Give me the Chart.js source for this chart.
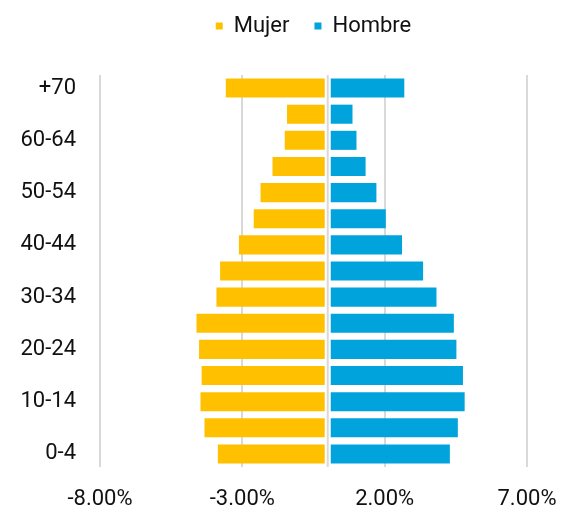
<!DOCTYPE html>
<html><head><meta charset="utf-8">
<script src="https://cdn.jsdelivr.net/npm/chart.js@4/dist/chart.umd.min.js"></script>
<style>html,body{margin:0;padding:0;background:#fff}#wrap{width:563px;height:510px}</style>
</head><body><div id="wrap"><canvas id="c" width="563" height="510"></canvas></div>
<script>
const categories = ['0-4','5-9','10-14','15-19','20-24','25-29','30-34','35-39','40-44','45-49','50-54','55-59','60-64','65-69','+70'];
const mujer  = [3.86,4.33,4.47,4.43,4.52,4.61,3.91,3.78,3.12,2.60,2.36,1.94,1.51,1.43,3.58];
const hombre = [4.29,4.57,4.81,4.75,4.52,4.43,3.82,3.35,2.61,2.04,1.71,1.33,1.01,0.87,2.69];
const xTicks = [-8,-3,2,7];

const FONT = {family:'Roboto', size:22};
const TXT = '#111';

const zeroLine = {
  id:'zeroLine',
  afterDatasetsDraw(chart){
    const {ctx, chartArea:a, scales:{x}} = chart;
    const x0 = x.getPixelForValue(0);
    ctx.save();
    ctx.fillStyle = '#fff';
    ctx.fillRect(x0-3, a.top, 6, a.bottom-a.top);
    ctx.strokeStyle = '#d9d9d9';
    ctx.lineWidth = 2;
    ctx.beginPath(); ctx.moveTo(x0, a.top); ctx.lineTo(x0, a.bottom); ctx.stroke();
    ctx.restore();
  }
};
const legendTweak = {
  id:'legendTweak',
  beforeInit(chart){
    const lg = chart.legend;
    const fit = lg.fit;
    lg.fit = function(){ fit.call(this); this.height = 85; };
  },
  afterLayout(chart){
    const lg = chart.legend;
    lg.left = chart.chartArea.left;
    lg.right = chart.chartArea.right;
  }
};

new Chart(document.getElementById('c'), {
  type:'bar',
  data:{
    labels: categories,
    datasets:[
      {label:'Mujer', data: mujer.map(v=>-v), backgroundColor:'#FFC000', barPercentage:0.73, categoryPercentage:1},
      {label:'Hombre', data: hombre, backgroundColor:'#00A3DC', barPercentage:0.73, categoryPercentage:1}
    ]
  },
  options:{
    indexAxis:'y',
    responsive:false,
    animation:false,
    devicePixelRatio:1,
    layout:{padding:{top:-10,right:36,left:0,bottom:0}},
    plugins:{
      legend:{
        position:'top',
        labels:{boxWidth:7, boxHeight:7, padding:25, font:FONT, color:TXT}
      },
      tooltip:{enabled:false}
    },
    scales:{
      x:{
        type:'linear', min:-8, max:7, stacked:true,
        afterBuildTicks:s=>{ s.ticks = xTicks.map(v=>({value:v})); },
        afterFit:s=>{ s.height = 43; s.paddingLeft = 0; s.paddingRight = 0; },
        ticks:{font:FONT, color:TXT, padding:19, callback:v=>Number(v).toFixed(2)+'%'},
        grid:{color:'#d9d9d9', lineWidth:2, drawTicks:false},
        border:{display:false}
      },
      y:{
        type:'category', reverse:true, stacked:true,
        afterFit:s=>{ s.width = 100; },
        ticks:{autoSkip:false, font:FONT, color:TXT, padding:16, callback:(v,i)=> i%2===0 ? categories[i] : ''},
        grid:{display:false},
        border:{display:false}
      }
    }
  },
  plugins:[zeroLine, legendTweak]
});
</script></body></html>
